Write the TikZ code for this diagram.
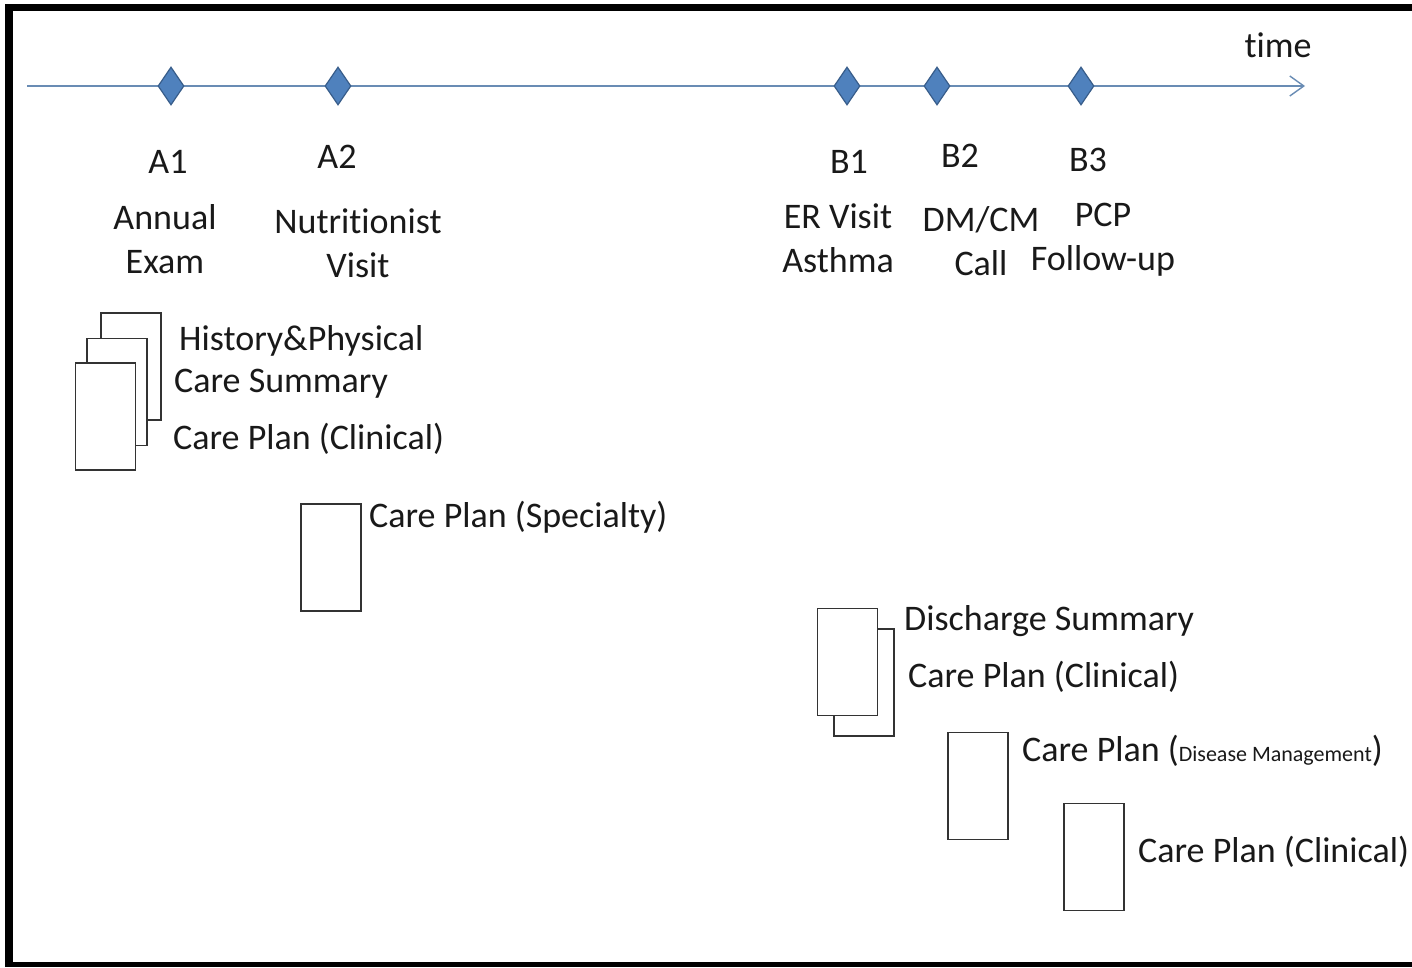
\documentclass[tikz,border=0pt]{standalone}
\usepackage{fontspec}
\setmainfont[Ligatures=NoCommon]{Carlito}
\usetikzlibrary{shapes.geometric,arrows.meta}
\definecolor{dfill}{RGB}{79,129,189}
\definecolor{ddraw}{RGB}{56,93,138}
\definecolor{tline}{RGB}{105,140,180}
\definecolor{txt}{RGB}{25,25,25}
\newcommand{\nl}{\kern0pt }
\tikzset{
  ev/.style={diamond,draw=ddraw,fill=dfill,line width=1.2pt,minimum width=26pt,minimum height=38pt,inner sep=0pt},
  lbl/.style={font=\fontsize{36}{44}\selectfont,text=txt,inner sep=0pt,align=center},
  doc/.style={rectangle,draw=black!80,fill=white,line width=1.2pt,minimum width=60pt,minimum height=107pt,inner sep=0pt},
  dtxt/.style={font=\fontsize{36}{44}\selectfont,text=txt,inner sep=0pt,anchor=base west},
  frame/.style={line width=8pt,black}
}
\begin{document}
\begin{tikzpicture}[x=1pt,y=-1pt]
\useasboundingbox (0,0) rectangle (1412,967);
\fill[white] (0,0) rectangle (1412,967);
% frame
\coordinate (f1) at (9,964.5);
\coordinate (f2) at (9,7.5);
\coordinate (f3) at (1412,7.5);
\coordinate (f4) at (1412,964.5);
\coordinate (f5) at (5,7.5);
\coordinate (f6) at (5,964.5);
\draw[frame,line width=8pt] (f1) -- (f2);
\draw[frame,line width=7pt] (f5) -- (f3);
\draw[frame,line width=5pt] (f6) -- (f4);
% timeline
\coordinate (ts) at (27,86);
\coordinate (te) at (1305,86);
\draw[tline,line width=1.4pt,-{Straight Barb[length=14pt,width=20pt,line width=1.4pt]}] (ts) -- (te);
\node[lbl] (time) at (1278,45) {t\nl ime};
\node[ev] (A1) at (171,86) {};
\node[ev] (A2) at (338,86) {};
\node[ev] (B1) at (847,86) {};
\node[ev] (B2) at (937,86) {};
\node[ev] (B3) at (1081,86) {};
% labels
\node[lbl] (lA1) at (168,162) {A1};
\node[lbl] (lA2) at (337,157) {A2};
\node[lbl] (lB1) at (849,162) {B1};
\node[lbl] (lB2) at (960,156) {B2};
\node[lbl] (lB3) at (1088,160) {B3};
\node[lbl] (dA1) at (165,239) {Annual\\Exam};
\node[lbl] (dA2) at (358,243) {Nutrit\nl ionist\\Visit};
\node[lbl] (dB1) at (838,238) {ER Visit\\Asthma};
\node[lbl] (dB2) at (981,241) {DM/CM\\Call};
\node[lbl] (dB3) at (1103,240) {PCP\\Follow-up};
% document stack 1
\node[doc] (d1c) at (131,366.5) {};
\node[doc] (d1b) at (117,392) {};
\node[doc] (d1a) at (105.5,416.5) {};
\node[dtxt] (t1a) at (179,350) {History\&Physical};
\node[dtxt] (t1b) at (174,392) {Care Summary};
\node[dtxt] (t1c) at (173,449) {Care Plan (Clinical)};
% document 2
\node[doc] (d2) at (331,557.5) {};
\node[dtxt] (t2) at (369,527) {Care Plan (Specialty)};
% document stack 3
\node[doc] (d3b) at (864,682.5) {};
\node[doc] (d3a) at (847.5,662) {};
\node[dtxt] (t3a) at (904,630) {Discharge Summary};
\node[dtxt] (t3b) at (908,687) {Care Plan (Clinical)};
% document 4
\node[doc] (d4) at (978,786) {};
\node[dtxt] (t4) at (1022,761) {Care Plan ({\fontsize{22}{26}\selectfont Disease Management})};
% document 5
\node[doc] (d5) at (1094,857) {};
\node[dtxt] (t5) at (1138,862) {Care Plan (Clinical)};
\end{tikzpicture}
\end{document}
